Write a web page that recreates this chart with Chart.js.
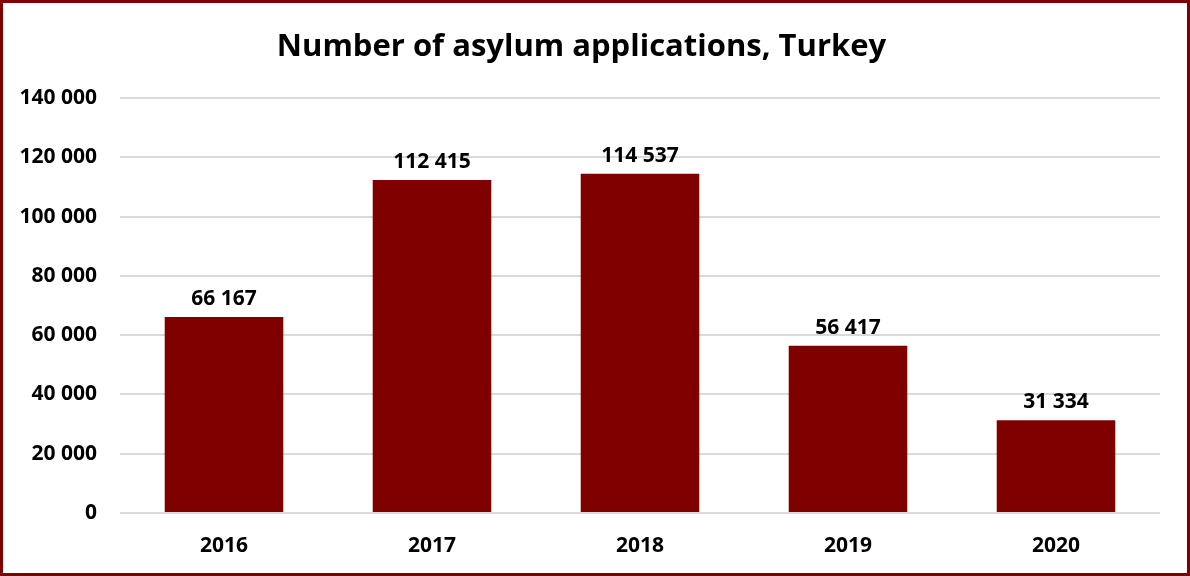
<!DOCTYPE html>
<html>
<head>
<meta charset="utf-8">
<script src="https://cdn.jsdelivr.net/npm/chart.js@4.4.1/dist/chart.umd.min.js"></script>
<style>
  html, body { margin: 0; padding: 0; background: #ffffff; }
  #frame {
    width: 1190px; height: 576px; box-sizing: border-box;
    border: 3px solid #7f0000; background: #ffffff;
  }
  #chart { display: block; }
</style>
</head>
<body>
<div id="frame"><canvas id="chart" width="1184" height="570"></canvas></div>
<script>
const years = ['2016', '2017', '2018', '2019', '2020'];
const applications = [66167, 112415, 114537, 56417, 31334];
const yTicks = [0, 20000, 40000, 60000, 80000, 100000, 120000, 140000];

const FONT = '"Open Sans", Lato, sans-serif';

// thousands grouped with a space: 112 415
function groupThousands(v) {
  return String(Math.round(v)).replace(/\B(?=(\d{3})+(?!\d))/g, ' ');
}

// value labels centred above each bar
const barValueLabels = {
  id: 'barValueLabels',
  afterDatasetsDraw(chart) {
    const ctx = chart.ctx;
    const meta = chart.getDatasetMeta(0);
    const data = chart.data.datasets[0].data;
    ctx.save();
    ctx.font = 'bold 21px ' + FONT;
    ctx.fillStyle = '#000000';
    ctx.textAlign = 'center';
    ctx.textBaseline = 'alphabetic';
    meta.data.forEach((bar, i) => {
      ctx.fillText(groupThousands(data[i]), bar.x, bar.y - 12);
    });
    ctx.restore();
  }
};

new Chart(document.getElementById('chart'), {
  type: 'bar',
  data: {
    labels: years,
    datasets: [{
      data: applications,
      backgroundColor: '#800000',
      borderWidth: 0,
      categoryPercentage: 1,
      barPercentage: 0.57
    }]
  },
  options: {
    responsive: false,
    animation: false,
    layout: { padding: { left: 0, right: 27, top: 0, bottom: 0 } },
    plugins: {
      legend: { display: false },
      tooltip: { enabled: false },
      title: {
        display: true,
        text: 'Number of asylum applications, Turkey',
        color: '#000000',
        font: { family: FONT, size: 31, weight: 'bold', lineHeight: 1.2 },
        padding: { top: 26, bottom: 32 }
      }
    },
    scales: {
      x: {
        grid: { display: false, drawTicks: false },
        border: { display: false },
        ticks: {
          color: '#000000',
          font: { family: FONT, size: 21, weight: 'bold' },
          padding: 20
        },
        afterFit(scale) { scale.height = 60; }
      },
      y: {
        min: 0,
        max: 140000,
        afterBuildTicks(scale) { scale.ticks = yTicks.map(v => ({ value: v })); },
        grid: { color: '#d9d9d9', lineWidth: 2, drawTicks: false },
        border: { display: false },
        ticks: {
          color: '#000000',
          font: { family: FONT, size: 21, weight: 'bold' },
          padding: 23,
          callback: v => groupThousands(v)
        },
        afterFit(scale) { scale.width = 117; }
      }
    }
  },
  plugins: [barValueLabels]
});
</script>
</body>
</html>
